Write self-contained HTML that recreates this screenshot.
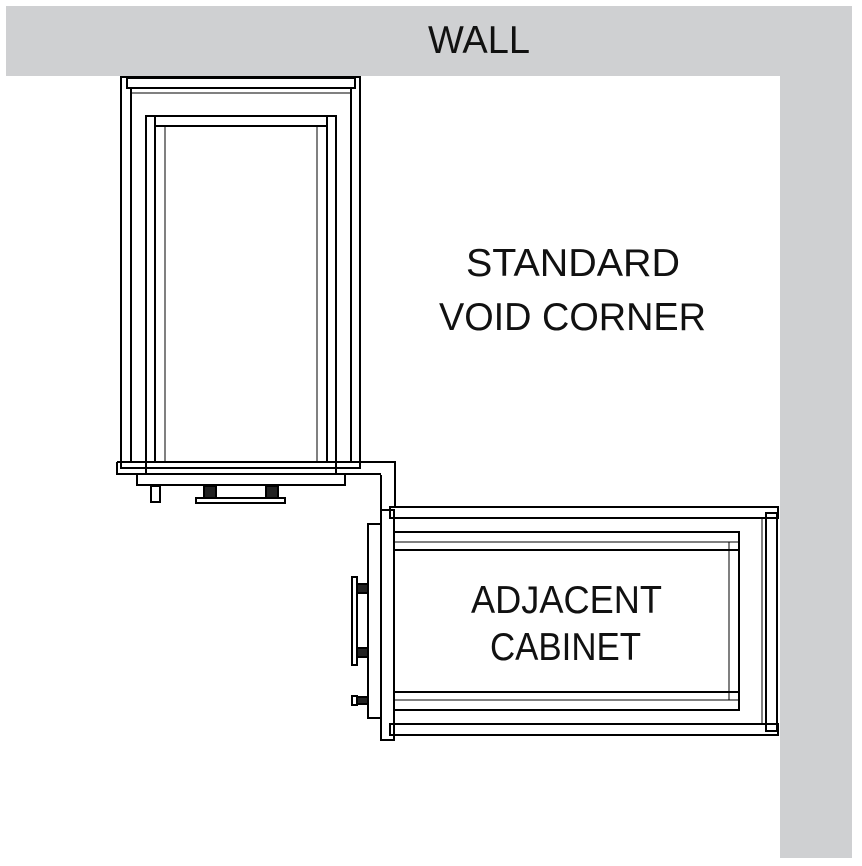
<!DOCTYPE html>
<html><head><style>html,body{margin:0;padding:0;background:#fff}svg{display:block}</style></head>
<body>
<svg width="862" height="866" viewBox="0 0 862 866" xmlns="http://www.w3.org/2000/svg">
<rect x="0" y="0" width="862" height="866" fill="#fff"/>
<rect x="6" y="6" width="846" height="70" fill="#cfd0d2"/>
<rect x="780" y="6" width="72" height="852" fill="#cfd0d2"/>
<g font-family="Liberation Sans, sans-serif" fill="#111" font-size="39">
<text x="428" y="53" textLength="102" lengthAdjust="spacingAndGlyphs">WALL</text>
<text x="466" y="276" textLength="214" lengthAdjust="spacingAndGlyphs">STANDARD</text>
<text x="439" y="330" textLength="267" lengthAdjust="spacingAndGlyphs">VOID CORNER</text>
<text x="471" y="613" textLength="191" lengthAdjust="spacingAndGlyphs">ADJACENT</text>
<text x="490" y="660" textLength="151" lengthAdjust="spacingAndGlyphs">CABINET</text>
</g>
<g fill="none" stroke="#000" stroke-width="2">
<!-- upper cabinet -->
<rect x="121" y="77" width="239" height="391"/>
<rect x="127" y="78" width="228" height="10"/>
<line x1="131" y1="88" x2="131" y2="462"/>
<line x1="351" y1="88" x2="351" y2="462"/>
<line x1="131" y1="93" x2="351" y2="93" stroke-width="1"/>
<rect x="146" y="116" width="190" height="346"/>
<line x1="155" y1="116" x2="155" y2="462"/>
<line x1="165" y1="126" x2="165" y2="462" stroke-width="1"/>
<line x1="317" y1="126" x2="317" y2="462" stroke-width="1"/>
<line x1="327" y1="116" x2="327" y2="462"/>
<line x1="155" y1="126" x2="327" y2="126"/>
<path d="M117 462 H395 V508 M381 475 V510 M117 462 V474 H381"/>
<line x1="146" y1="462" x2="146" y2="474"/>
<line x1="336" y1="462" x2="336" y2="474"/>
<rect x="137" y="474" width="208" height="11"/>
<rect x="151" y="486" width="9" height="16"/>
<rect x="196" y="498" width="89" height="5"/>
<rect x="204" y="486" width="12" height="12" fill="#222"/>
<rect x="266" y="486" width="12" height="12" fill="#222"/>
<!-- lower cabinet -->
<rect x="390" y="507" width="388" height="11"/>
<rect x="390" y="724" width="388" height="11"/>
<rect x="381" y="510" width="13" height="230"/>
<rect x="368" y="524" width="13" height="194"/>
<rect x="352" y="577" width="5" height="88"/>
<rect x="357" y="584" width="11" height="9" fill="#222"/>
<rect x="357" y="648" width="11" height="9" fill="#222"/>
<rect x="352" y="696" width="5" height="9"/>
<rect x="357" y="697" width="11" height="7" fill="#222"/>
<rect x="394" y="518" width="372" height="206"/>
<rect x="766" y="513" width="11" height="218"/>
<line x1="762" y1="518" x2="762" y2="724" stroke-width="1"/>
<rect x="394" y="532" width="345" height="178"/>
<line x1="394" y1="542" x2="739" y2="542" stroke-width="1"/>
<line x1="394" y1="550" x2="739" y2="550"/>
<line x1="394" y1="692" x2="739" y2="692"/>
<line x1="394" y1="700" x2="739" y2="700" stroke-width="1"/>
<line x1="729" y1="542" x2="729" y2="700" stroke-width="1"/>
</g>
</svg>
</body></html>
